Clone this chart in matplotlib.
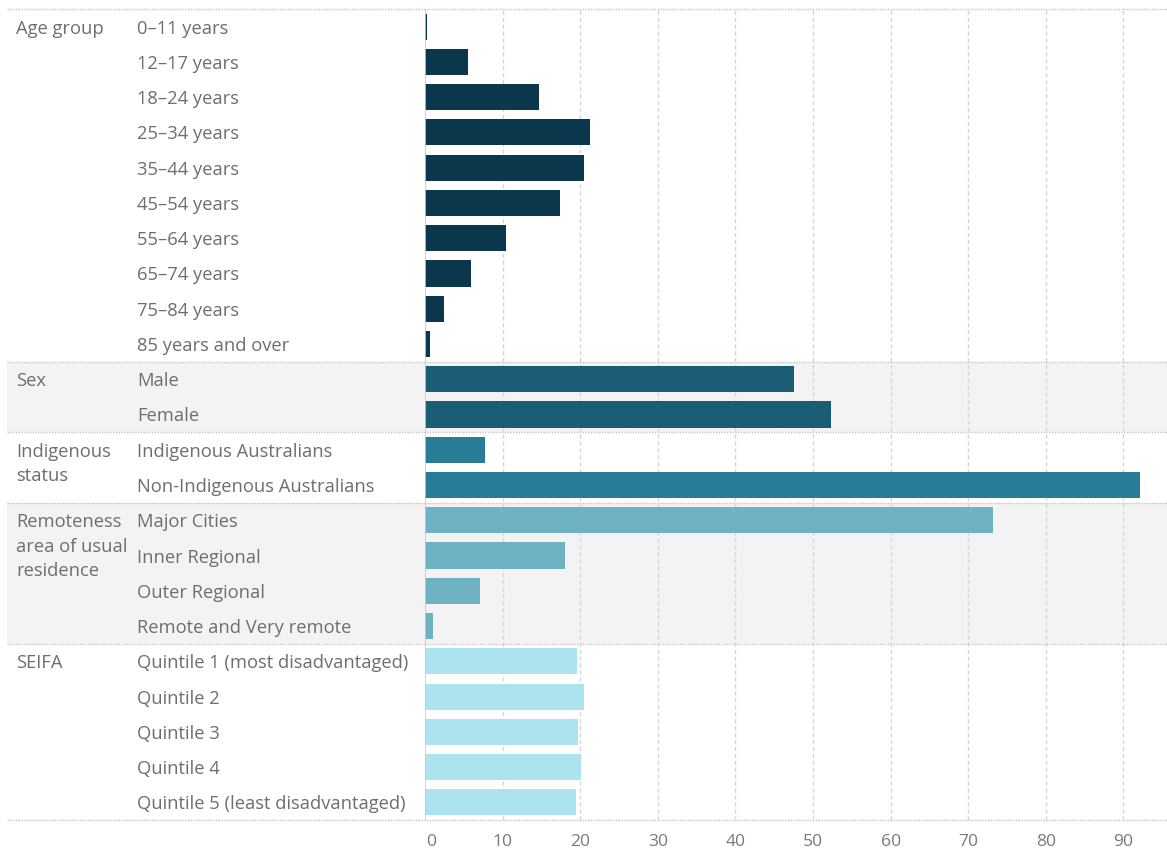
import matplotlib.pyplot as plt
import matplotlib.transforms as mtransforms

plt.rcParams['font.family'] = ['Open Sans', 'DejaVu Sans']

# categories and values (%), by group
age_labels = ['0–11 years', '12–17 years', '18–24 years', '25–34 years', '35–44 years',
              '45–54 years', '55–64 years', '65–74 years', '75–84 years', '85 years and over']
age_vals = [0.25, 5.5, 14.7, 21.2, 20.5, 17.4, 10.4, 5.9, 2.4, 0.6]

sex_labels = ['Male', 'Female']
sex_vals = [47.6, 52.3]

indig_labels = ['Indigenous Australians', 'Non-Indigenous Australians']
indig_vals = [7.7, 92.2]

remote_labels = ['Major Cities', 'Inner Regional', 'Outer Regional', 'Remote and Very remote']
remote_vals = [73.2, 18.0, 7.1, 1.0]

seifa_labels = ['Quintile 1 (most disadvantaged)', 'Quintile 2', 'Quintile 3',
                'Quintile 4', 'Quintile 5 (least disadvantaged)']
seifa_vals = [19.6, 20.5, 19.7, 20.1, 19.4]

groups = [
    (['Age group'], age_labels, age_vals, '#0c384e', False),
    (['Sex'], sex_labels, sex_vals, '#1a5d74', True),
    (['Indigenous', 'status'], indig_labels, indig_vals, '#287c96', False),
    (['Remoteness', 'area of usual', 'residence'], remote_labels, remote_vals, '#6eb2c3', True),
    (['SEIFA'], seifa_labels, seifa_vals, '#ace3ef', False),
]

text_col = '#6e6e6e'
fs = 13.2

fig = plt.figure(figsize=(11.67, 8.52), dpi=100)
W, H = 1167, 852
ax = fig.add_axes([425 / W, 1 - 820 / H, (1167 - 425) / W, (820 - 9) / H])

n_rows = sum(len(g[1]) for g in groups)
row_px = (820 - 9) / n_rows
ax.set_xlim(0, 742 / 7.76)
ax.set_ylim(n_rows - 0.5, -0.5)

# x in figure fraction, y in data rows
blend = mtransforms.blended_transform_factory(fig.transFigure, ax.transData)

for x in range(10, 100, 10):
    ax.axvline(x, color='#d6d6d6', lw=1, ls=(0, (3, 2)), zorder=1)
ax.axvline(0, color='#c8c8c8', lw=1.2, zorder=3)


def separator(y):
    ax.plot([7 / W, 1.0], [y, y], transform=blend, color='#c4c4c4',
            lw=1, ls=(0, (1, 1)), clip_on=False, zorder=2)


row = 0
for title_lines, labels, vals, col, shaded in groups:
    top, bottom = row - 0.5, row + len(labels) - 0.5
    if shaded:
        ax.fill_between([7 / W, 1.0], top, bottom, transform=blend,
                        color='#f3f3f3', zorder=0, clip_on=False, lw=0)
    separator(top)
    for i, line in enumerate(title_lines):
        ax.text(16 / W, row + i * 24.5 / row_px, line, transform=blend, fontsize=fs,
                color=text_col, va='center_baseline', ha='left')
    ys = list(range(row, row + len(labels)))
    ax.barh(ys, vals, height=0.74, color=col, zorder=2)
    for y, lab in zip(ys, labels):
        ax.text(137 / W, y, lab, transform=blend, fontsize=fs, color=text_col,
                va='center_baseline', ha='left')
    row += len(labels)
separator(row - 0.5)

ax.set_xticks(range(0, 100, 10))
ax.set_yticks([])
ax.tick_params(axis='x', length=0, labelsize=12.6, labelcolor='#7a7a7a', pad=10)
# the zero label sits a little right of its gridline
zero_lbl = ax.get_xticklabels()[0]
zero_lbl.set_transform(zero_lbl.get_transform() +
                       mtransforms.ScaledTranslation(6 / 100, 0, fig.dpi_scale_trans))
for s in ax.spines.values():
    s.set_visible(False)
ax.patch.set_alpha(0)

fig.savefig('out.png', dpi=100)
